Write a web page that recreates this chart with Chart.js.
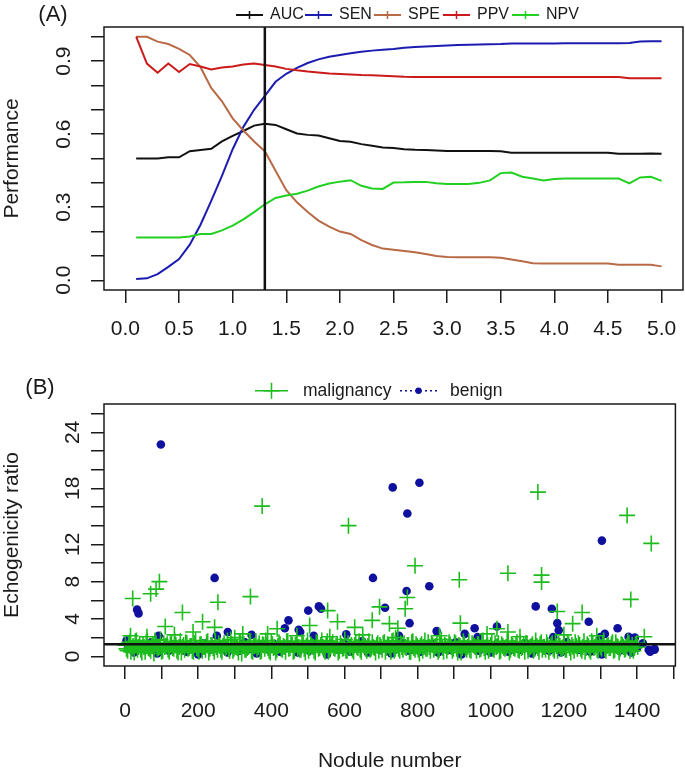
<!DOCTYPE html>
<html>
<head>
<meta charset="utf-8">
<script src="https://cdn.jsdelivr.net/npm/chart.js@4.4.1/dist/chart.umd.min.js"></script>
<style>
  body { margin: 0; background: #fff; }
  .panel { position: absolute; left: 0; }
</style>
</head>
<body>
<canvas id="panelA" class="panel" width="685" height="370" style="top:0px"></canvas>
<canvas id="panelB" class="panel" width="685" height="402" style="top:370px"></canvas>
<script>
// panel A: performance by threshold
const thresholds = [0.1,0.2,0.3,0.4,0.5,0.6,0.7,0.8,0.9,1.0,1.1,1.2,1.3,1.4,1.5,1.6,1.7,1.8,1.9,2.0,
  2.1,2.2,2.3,2.4,2.5,2.6,2.7,2.8,2.9,3.0,3.1,3.2,3.3,3.4,3.5,3.6,3.7,3.8,3.9,4.0,
  4.1,4.2,4.3,4.4,4.5,4.6,4.7,4.8,4.9,5.0]
const auc = [0.50,0.50,0.50,0.505,0.505,0.53,0.535,0.54,0.57,0.593,0.613,0.635,0.643,0.638,0.62,0.603,0.597,0.594,0.583,0.572,
  0.569,0.559,0.552,0.545,0.543,0.538,0.536,0.535,0.533,0.531,0.531,0.531,0.531,0.531,0.530,0.524,0.524,0.524,0.524,0.524,
  0.524,0.524,0.524,0.524,0.524,0.520,0.520,0.520,0.521,0.520]
const sen = [0.005,0.008,0.025,0.055,0.087,0.146,0.228,0.326,0.429,0.538,0.630,0.700,0.757,0.815,0.848,0.872,0.892,0.907,0.918,0.925,
  0.932,0.938,0.943,0.947,0.950,0.955,0.958,0.960,0.962,0.964,0.966,0.967,0.968,0.969,0.970,0.972,0.972,0.972,0.972,0.972,
  0.973,0.973,0.973,0.973,0.973,0.973,0.974,0.980,0.981,0.981]
const spe = [1.0,1.0,0.98,0.97,0.95,0.925,0.875,0.79,0.735,0.665,0.615,0.57,0.53,0.45,0.37,0.32,0.28,0.245,0.22,0.20,
  0.19,0.165,0.145,0.13,0.125,0.12,0.115,0.108,0.10,0.096,0.095,0.095,0.094,0.094,0.092,0.085,0.078,0.07,0.069,0.069,
  0.069,0.069,0.069,0.069,0.069,0.064,0.064,0.064,0.064,0.057]
const ppv = [1.0,0.89,0.852,0.89,0.855,0.888,0.878,0.866,0.874,0.878,0.886,0.89,0.884,0.878,0.868,0.862,0.857,0.853,0.849,0.847,
  0.845,0.843,0.842,0.84,0.838,0.836,0.835,0.835,0.835,0.835,0.835,0.835,0.835,0.835,0.835,0.835,0.835,0.835,0.835,0.835,
  0.835,0.835,0.835,0.835,0.835,0.835,0.83,0.83,0.83,0.83]
const npv = [0.176,0.176,0.176,0.176,0.176,0.18,0.19,0.19,0.205,0.224,0.25,0.28,0.312,0.338,0.348,0.355,0.368,0.385,0.397,0.405,
  0.411,0.388,0.377,0.375,0.401,0.402,0.404,0.404,0.398,0.395,0.395,0.395,0.40,0.41,0.44,0.442,0.425,0.418,0.41,0.416,
  0.418,0.418,0.418,0.418,0.418,0.418,0.398,0.422,0.425,0.408]
const cutoff = 1.3

const ticksAx = [0,0.5,1,1.5,2,2.5,3,3.5,4,4.5,5]
const ticksAy = [0,0.1,0.2,0.3,0.4,0.5,0.6,0.7,0.8,0.9,1]
const labelsAy = [0,0.3,0.6,0.9]

// panel B: echogenicity ratio per nodule
// dense band: malBand every 6th nodule from 1, malBand2 every 6th from 4, benBand every 16th from 8
const malBand = [
  1.2,0.6,1.5,0.9,0.4,1.7,1.0,0.7,1.3,0.5,1.6,0.8,1.1,0.3,1.4,0.9,1.8,0.6,1.0,1.3,
  0.5,1.5,0.8,1.2,0.4,1.6,1.0,0.7,1.4,0.9,1.1,0.5,1.7,0.8,1.3,0.6,1.0,1.5,0.4,1.2,
  0.9,1.6,0.7,1.1,0.5,1.4,1.0,0.8,1.8,0.6,1.2,0.9,1.5,0.3,1.3,0.7,1.0,1.6,0.5,1.1,
  0.8,1.4,0.6,1.2,1.7,0.9,0.4,1.3,1.0,0.7,1.5,0.8,1.1,0.5,1.6,0.9,1.2,0.6,1.4,1.0,
  0.7,1.3,0.4,1.7,0.9,1.1,0.6,1.5,0.8,1.2,1.0,0.5,1.6,0.7,1.3,0.9,1.1,0.4,1.4,0.8,
  1.8,0.6,1.0,1.2,0.5,1.5,0.9,0.7,1.3,1.1,0.6,1.6,0.8,1.0,0.4,1.4,1.2,0.7,1.5,0.9,
  1.1,0.5,1.7,0.8,1.3,0.6,1.0,1.4,0.9,1.2,0.5,1.6,0.7,1.1,0.3,1.3,1.0,0.8,1.5,0.6,
  1.2,0.9,1.4,0.7,1.8,0.5,1.1,1.0,1.3,0.6,1.5,0.8,1.2,0.4,1.6,0.9,1.0,0.7,1.4,1.1,
  0.6,1.3,0.8,1.7,0.5,1.2,0.9,1.5,0.7,1.0,1.4,0.6,1.1,0.8,1.6,0.4,1.3,0.9,1.2,0.7,
  1.5,1.0,0.5,1.4,0.8,1.1,0.6,1.7,0.9,1.3,0.7,1.0,1.5,0.5,1.2,0.8,1.6,0.6,1.1,0.9,
  1.4,0.7,1.3,0.4,1.0,1.5,0.8,1.2,0.6,1.6,0.9,1.1,0.5,1.4,1.0,0.7,1.3,0.8,1.7,0.6,
  1.2,0.9,1.5,0.7,1.1,0.4,1.3,1.0,0.8,1.6,0.6,1.2,0.9,1.4]
const malBand2 = [
  0.8,1.4,0.5,1.1,1.6,0.7,1.3,0.4,1.0,1.5,0.9,0.6,1.2,1.7,0.8,1.0,0.5,1.4,1.1,0.7,
  1.3,0.9,1.6,0.6,1.0,0.4,1.2,1.5,0.8,1.1,0.6,1.4,0.9,0.5,1.3,1.0,0.7,1.6,0.8,1.2,
  0.5,1.0,1.4,0.7,1.1,0.9,1.7,0.6,1.3,0.8,1.0,0.4,1.5,1.2,0.7,0.9,1.4,0.6,1.1,1.6,
  1.0,0.5,1.3,0.8,1.2,0.6,1.5,0.9,0.4,1.1,1.3,0.7,1.0,1.6,0.8,1.4,0.5,1.2,0.9,0.7,
  1.5,0.8,1.1,0.6,1.3,1.0,0.4,1.4,0.9,1.7,0.7,1.2,0.5,1.0,1.5,0.8,1.3,0.6,1.1,0.9,
  0.6,1.4,0.9,0.7,1.2,1.0,1.6,0.5,1.3,0.8,1.1,0.7,1.5,0.9,1.2,0.6,1.0,1.4,0.5,1.3,
  0.9,1.6,0.6,1.1,0.8,1.4,0.7,1.0,1.2,0.5,1.5,0.9,1.3,0.7,1.1,0.6,1.7,0.8,1.0,1.4,
  0.7,1.1,0.5,1.3,0.9,1.2,0.6,1.5,1.0,0.8,1.4,0.4,1.1,0.9,1.3,0.7,1.6,0.6,1.2,1.0,
  1.3,0.7,1.5,0.9,1.0,0.6,1.2,0.8,1.4,1.1,0.5,1.3,0.9,1.0,1.6,0.7,1.1,0.8,1.5,0.6,
  0.9,1.2,1.4,0.6,1.0,1.3,0.8,1.1,0.5,1.5,1.0,0.7,1.2,0.9,1.4,0.6,1.1,1.3,0.8,1.0,
  0.7,1.5,0.9,1.2,0.6,1.1,1.4,0.8,1.0,0.5,1.3,0.7,1.6,0.9,1.2,0.6,1.0,1.4,0.8,1.1,
  0.9,1.3,0.6,1.5,1.0,0.8,1.2,0.7,1.1,1.4,0.9,0.6,1.3,1.0]
const benBand = [
  0.9,0.4,1.2,0.7,1.5,0.3,1.0,0.6,1.3,0.8,0.5,1.1,0.2,1.4,0.7,0.9,1.2,0.4,1.0,0.6,
  1.5,0.8,0.3,1.1,0.7,1.3,0.5,0.9,1.2,0.4,1.0,0.6,1.4,0.8,0.2,1.1,0.7,1.3,0.5,0.9,
  1.6,0.4,1.0,0.7,1.2,0.3,0.8,1.4,0.6,1.1,0.5,0.9,1.3,0.4,1.0,0.7,1.5,0.2,0.8,1.2,
  0.6,1.0,0.4,1.3,0.9,0.5,1.1,0.7,1.4,0.3,0.8,1.2,0.6,1.0,0.4,1.5,0.9,0.7,1.1,0.5,
  1.3,0.2,0.8,1.0,0.6,1.2,0.4,0.9,1.4,0.7,0.8]
// values above the band
const malNo = [375,611,1129,1373,1439,793,1047,914,1139,1139,94,85,70,21,343,254,1383,772,766,696,
  157,554,1182,1250,110,212,245,505,581,628,676,723,746,917,1224,416,1017,1047,186,322,
  15,60,135,300,390,470,560,650,740,860,990,1080,1200,1290,1420]
const malVal = [16.1,14.0,17.6,15.1,12.1,9.7,8.9,8.2,8.7,7.95,8.0,7.2,6.7,6.2,6.4,5.8,6.1,6.3,5.1,5.3,
  4.7,4.9,4.8,4.7,3.2,3.7,3.1,3.3,3.7,3.1,3.85,3.5,3.0,3.55,3.5,2.95,2.95,2.6,2.6,2.4,
  2.2,2.1,2.3,2.0,2.4,2.2,2.1,2.3,2.0,2.2,2.4,2.1,2.3,2.2,2.1]
const benNo = [98,732,805,772,1304,245,678,770,832,33,37,501,530,536,711,1123,1167,447,437,778,
  956,1017,1182,1186,1268,1347,475,479,516,281,251,92,346,605,749,852,929,964,1171,1300,
  1312,1377,1394,1448,1436,4]
const benVal = [22.7,18.1,18.6,15.3,12.4,8.4,8.4,7.0,7.5,5.0,4.6,4.9,5.35,5.1,5.2,5.35,5.1,3.85,3.0,3.55,
  3.0,3.2,3.55,2.8,3.7,3.0,2.85,2.6,2.2,2.6,2.2,2.2,2.3,2.35,2.2,2.7,2.4,2.05,2.05,2.05,
  2.4,2.1,2.0,0.7,0.5,1.7]

const ticksBx = [0,100,200,300,400,500,600,700,800,900,1000,1100,1200,1300,1400,1500]
const labelsBx = [0,200,400,600,800,1000,1200,1400]
const ticksBy = [0,2,4,6,8,10,12,14,16,18,20,22,24,26]
const labelsBy = [0,4,8,12,18,24]

const FONT = '"Liberation Sans", Arial, sans-serif'
const INK = '#1a1a1a'

const rAxis = (o) => ({
  type: 'linear',
  min: o.min,
  max: o.max,
  bounds: 'data',
  afterBuildTicks: s => { s.ticks = o.ticks.map(v => ({value: v})) },
  afterFit: s => {
    if (o.width) s.width = o.width
    if (o.height) s.height = o.height
    s.paddingLeft = 0; s.paddingRight = 0; s.paddingTop = 0; s.paddingBottom = 0
  },
  grid: {drawOnChartArea: false, drawTicks: true, tickLength: 13, color: INK, lineWidth: 1.5},
  border: {display: false},
  ticks: {
    autoSkip: false,
    color: INK,
    font: {family: FONT, size: 21},
    padding: o.pad,
    minRotation: o.rot || 0,
    maxRotation: o.rot || 0,
    crossAlign: o.rot ? 'center' : 'near',
    callback: v => o.labels.includes(v) ? o.fmt(v) : ''
  },
  title: o.title ? {
    display: true, text: o.title, color: INK,
    font: {family: FONT, size: 21},
    padding: o.titlePad
  } : {display: false}
})

// box, panel tag and R-style legend
const rDecor = (tag, tagX, tagY, legend) => ({
  id: 'rDecor',
  afterDraw(chart) {
    const {ctx, chartArea: a} = chart
    ctx.save()
    ctx.strokeStyle = INK
    ctx.lineWidth = 1.5
    ctx.strokeRect(a.left, a.top, a.right - a.left, a.bottom - a.top)
    ctx.fillStyle = INK
    ctx.font = '22px ' + FONT
    ctx.textAlign = 'center'
    ctx.textBaseline = 'middle'
    ctx.fillText(tag, tagX, tagY)
    ctx.font = legend.size + 'px ' + FONT
    ctx.textAlign = 'left'
    legend.items.forEach(it => {
      const y = legend.y
      ctx.strokeStyle = it.color
      ctx.lineWidth = it.lineWidth
      ctx.setLineDash(it.dash || [])
      ctx.beginPath()
      ctx.moveTo(it.s, y)
      ctx.lineTo(it.e, y)
      ctx.stroke()
      ctx.setLineDash([])
      const c = (it.s + it.e) / 2
      if (it.marker === 'cross') {
        ctx.lineWidth = 1.5
        ctx.beginPath()
        ctx.moveTo(c - it.m, y); ctx.lineTo(c + it.m, y)
        ctx.moveTo(c, y - it.m); ctx.lineTo(c, y + it.m)
        ctx.stroke()
      } else if (it.marker === 'dot') {
        ctx.fillStyle = it.color
        ctx.beginPath()
        ctx.arc(c, y, it.m, 0, Math.PI * 2)
        ctx.fill()
      }
      ctx.fillStyle = INK
      ctx.fillText(it.label, it.t, y)
    })
    ctx.restore()
  }
})

const colA = {AUC: '#111111', SEN: '#1c1cb0', SPE: '#b86a45', PPV: '#cc1a1a', NPV: '#22d022'}
const pts = (ys) => thresholds.map((t, i) => ({x: t, y: ys[i]}))
const yMinA = -0.04, yMaxA = 1.04

const topLegend = {
  y: 15, size: 16,
  items: ['AUC', 'SEN', 'SPE', 'PPV', 'NPV'].map((k, i) => ({
    label: k, color: colA[k], lineWidth: 2, marker: 'cross', m: 4,
    s: 236 + i * 69, e: 263 + i * 69, t: 270 + i * 69
  }))
}

const lineSet = (label, data, color, width) => ({
  label, data, borderColor: color, backgroundColor: color,
  borderWidth: width, pointRadius: 0, tension: 0, fill: false
})

new Chart(document.getElementById('panelA'), {
  type: 'line',
  data: {
    datasets: [
      lineSet('cutoff', [{x: cutoff, y: yMinA}, {x: cutoff, y: yMaxA}], '#111111', 2.5),
      lineSet('NPV', pts(npv), colA.NPV, 2),
      lineSet('PPV', pts(ppv), colA.PPV, 2),
      lineSet('SPE', pts(spe), colA.SPE, 2),
      lineSet('SEN', pts(sen), colA.SEN, 2),
      lineSet('AUC', pts(auc), colA.AUC, 2)
    ]
  },
  options: {
    responsive: false,
    animation: false,
    events: [],
    layout: {padding: {top: 27, right: 2, left: 0, bottom: 0}},
    plugins: {legend: {display: false}, tooltip: {enabled: false}},
    scales: {
      x: rAxis({min: -0.2, max: 5.2, ticks: ticksAx, labels: ticksAx, fmt: v => v.toFixed(1), pad: 14, height: 80}),
      y: rAxis({min: yMinA, max: yMaxA, ticks: ticksAy, labels: labelsAy, fmt: v => v.toFixed(1), pad: 12, rot: 90,
        width: 104, title: 'Performance', titlePad: {top: 0, bottom: 0}})
    }
  },
  plugins: [rDecor('(A)', 53, 15, topLegend)]
})

const green = '#1cbc1c'
const blue = '#10109e'
const xMinB = -57.5, xMaxB = 1505
const malPts = malBand.map((v, i) => ({x: 1 + i * 6, y: v}))
  .concat(malBand2.map((v, i) => ({x: 4 + i * 6, y: v})))
  .concat(malNo.map((n, i) => ({x: n, y: malVal[i]})))
const benPts = benBand.map((v, i) => ({x: 8 + i * 16, y: v}))
  .concat(benNo.map((n, i) => ({x: n, y: benVal[i]})))

const bottomLegend = {
  y: 20.7, size: 17.5,
  items: [
    {label: 'malignancy', color: green, lineWidth: 1.5, marker: 'cross', m: 8, s: 255, e: 288, t: 303},
    {label: 'benign', color: blue, lineWidth: 1.5, marker: 'dot', m: 3.2, dash: [2, 3], s: 400, e: 437, t: 450}
  ]
}

new Chart(document.getElementById('panelB'), {
  type: 'scatter',
  data: {
    datasets: [
      {label: 'cutoff', data: [{x: xMinB, y: cutoff}, {x: xMaxB, y: cutoff}], showLine: true,
        borderColor: '#111111', borderWidth: 2.5, pointRadius: 0},
      {label: 'malignancy', data: malPts, pointStyle: 'cross', pointRadius: 8,
        borderColor: green, backgroundColor: green, borderWidth: 1.6},
      {label: 'benign', data: benPts, pointStyle: 'circle', pointRadius: 4.3,
        borderColor: blue, backgroundColor: blue, borderWidth: 0}
    ]
  },
  options: {
    responsive: false,
    animation: false,
    events: [],
    layout: {padding: {top: 34, right: 2, left: 0, bottom: 0}},
    plugins: {legend: {display: false}, tooltip: {enabled: false}},
    scales: {
      x: rAxis({min: xMinB, max: xMaxB, ticks: ticksBx, labels: labelsBx, fmt: v => String(v), pad: 20, height: 106,
        title: 'Nodule number', titlePad: {top: 0, bottom: -2}}),
      y: rAxis({min: -1.04, max: 27.04, ticks: ticksBy, labels: labelsBy, fmt: v => String(v), pad: 6, rot: 90,
        width: 104, title: 'Echogenicity ratio', titlePad: {top: 0, bottom: 0}})
    }
  },
  plugins: [rDecor('(B)', 40, 18, bottomLegend)]
})
</script>
</body>
</html>
